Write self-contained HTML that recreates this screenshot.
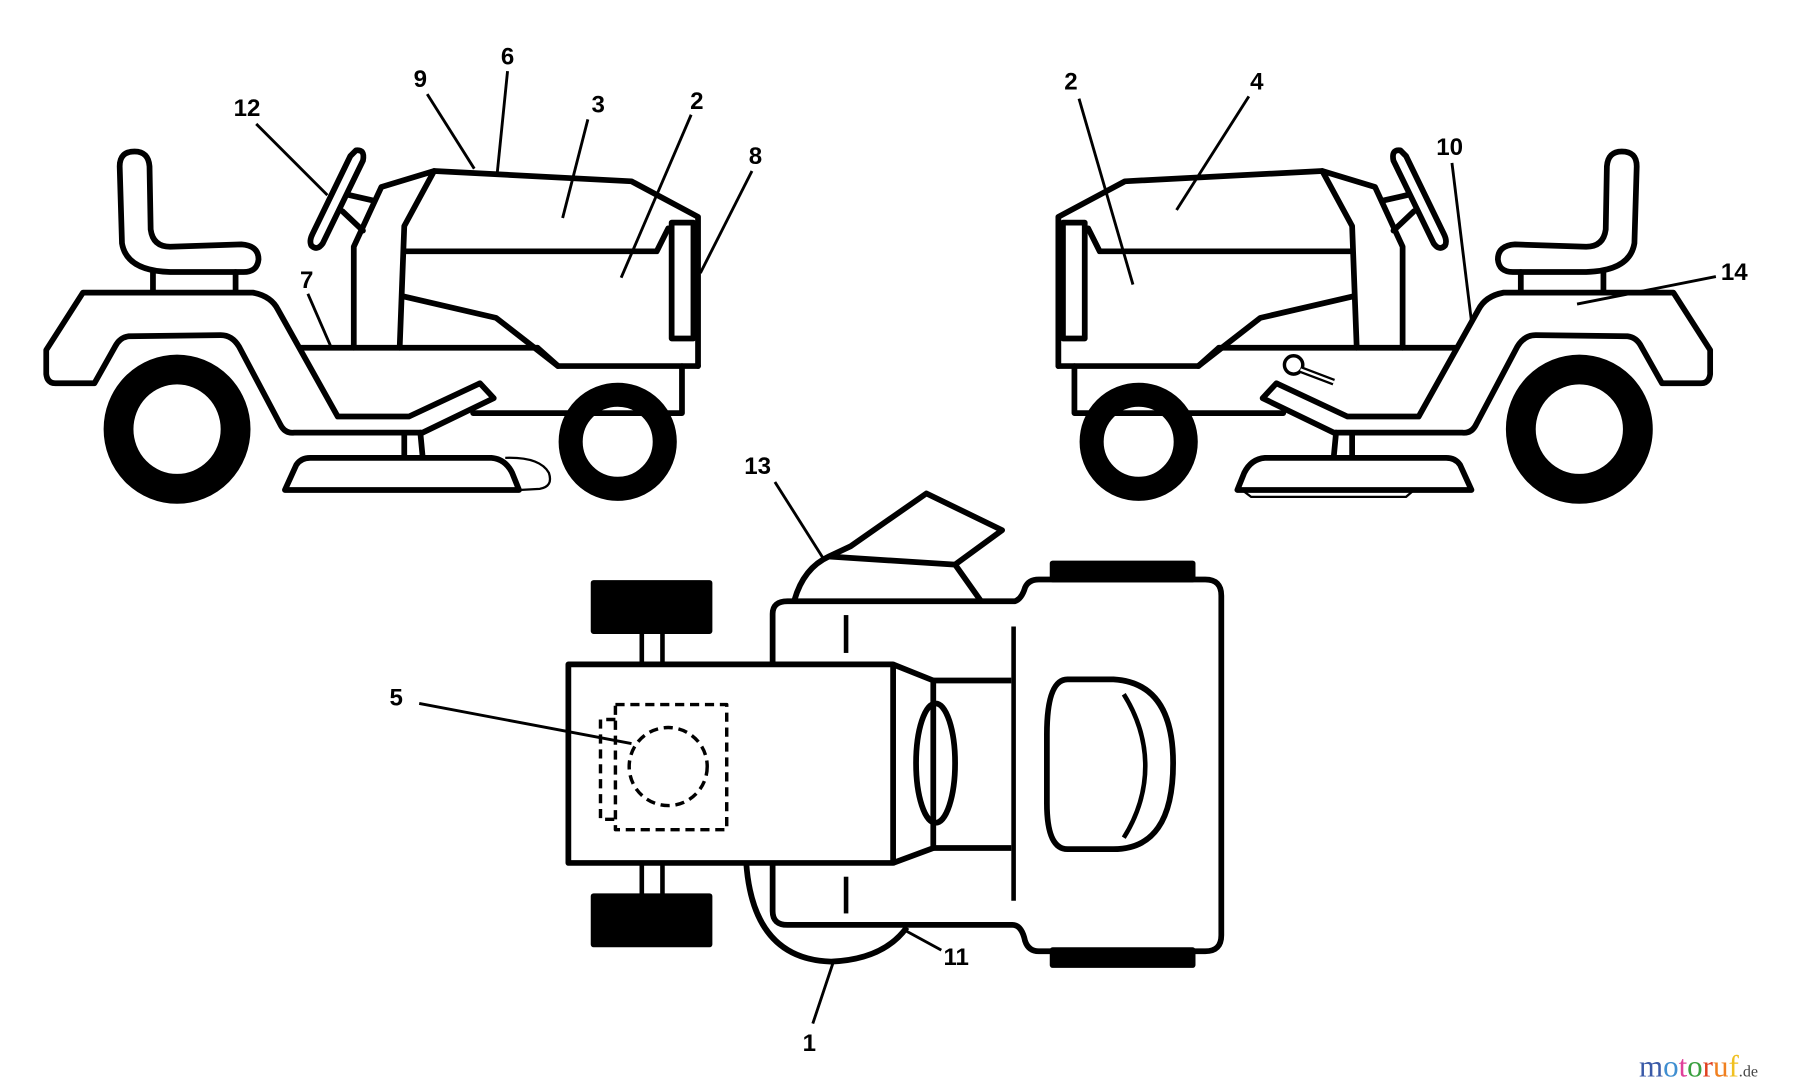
<!DOCTYPE html>
<html><head><meta charset="utf-8"><style>
html,body{margin:0;padding:0;background:#fff;}
svg{display:block}
text{font-family:"Liberation Sans",Arial,sans-serif;font-weight:bold;font-size:21px;fill:#000}
</style></head><body>
<svg width="1800" height="1089" viewBox="0 0 1568 949" xmlns="http://www.w3.org/2000/svg">
<defs>
<g id="tr" fill="none" stroke="#000" stroke-width="5" stroke-linejoin="round" stroke-linecap="round">
  <path d="M106,212 L104,145 Q104,132 117,132 Q129,132 130,145 L131,200 Q133,215 148,215 L210,213 Q225,214 225,226 Q224,237 212,237 L148,237 Q110,236 106,212 Z" fill="#fff"/>
  <line x1="133" y1="237" x2="133" y2="254"/><line x1="205" y1="237" x2="205" y2="254"/>
  <ellipse cx="154" cy="374" rx="51" ry="52" stroke-width="26"/>
  <ellipse cx="538" cy="385" rx="41" ry="41" stroke-width="21"/>
  <path d="M72,255 L220,255 Q236,258 242,270 L294,363 L356,363 L418,334 L430,347 L368,377 L256,377 Q248,378 244,370 L208,302 Q202,292 192,292 L112,293 Q104,294 100,302 L82,334 L48,334 Q41,334 40,326 L40,305 Z" fill="#fff"/>
  <line x1="262" y1="303" x2="468" y2="303"/>
  <path d="M468,303 L486,319 L608,319"/>
  <path d="M594,319 L594,360 L412,360"/>
  <path d="M308,303 L308,215 L332,163 L378,149 L550,158 L608,189 L608,319"/>
  <path d="M378,149 L352,197 L348,303"/>
  <path d="M352,219 L572,219 L582,199"/>
  <rect x="585" y="194" width="19" height="101"/>
  <path d="M350,258 L432,277 L486,319"/>
  <line x1="304" y1="170" x2="326" y2="175"/><line x1="298" y1="184" x2="316" y2="201"/>
  <path d="M310,131 Q318,130 316,140 L281,212 Q276,219 271,214 Q269,210 272,204 L305,136 Z" fill="#fff"/>
  <line x1="352" y1="379" x2="352" y2="398"/><line x1="366" y1="377" x2="368" y2="398"/>
  <path d="M248,427 L258,405 Q262,399 270,399 L428,399 Q440,400 446,412 L452,427 Z" fill="#fff"/>
</g>
</defs>
<use href="#tr"/>
<path d="M440,399 Q470,398 478,412 Q482,424 470,426 L452,427" fill="none" stroke="#000" stroke-width="2"/>
<use href="#tr" transform="translate(1530,0) scale(-1,1)"/>
<circle cx="1127" cy="318" r="8" fill="#fff" stroke="#000" stroke-width="3"/>
<line x1="1133" y1="322" x2="1162" y2="333" stroke="#000" stroke-width="6"/>
<line x1="1133" y1="322" x2="1162" y2="333" stroke="#fff" stroke-width="2"/>
<path d="M1082,427 L1090,433 L1225,433 L1232,427" fill="none" stroke="#000" stroke-width="2"/>

<g fill="none" stroke="#000" stroke-width="5" stroke-linejoin="round">
  <rect x="517" y="508" width="101" height="42" fill="#000"/>
  <rect x="517" y="781" width="101" height="42" fill="#000"/>
  <rect x="917" y="491" width="122" height="14" fill="#000"/>
  <rect x="917" y="828" width="122" height="13" fill="#000"/>
  <line x1="559" y1="550" x2="559" y2="579" stroke-width="4"/><line x1="577" y1="550" x2="577" y2="579" stroke-width="4"/>
  <line x1="559" y1="752" x2="559" y2="781" stroke-width="4"/><line x1="577" y1="752" x2="577" y2="781" stroke-width="4"/>
  <path d="M650,752 Q656,836 724,838 Q770,836 790,808"/>
  <path d="M692,523 Q700,495 722,485 L741,476 L807,430 L873,462 L832,492 L854,523"/>
  <line x1="722" y1="485" x2="832" y2="492"/>
  <path d="M673,579 L673,535 Q673,524 686,524 L884,524 Q890,522 893,512 Q896,505 905,505 L1050,505 Q1064,505 1064,519 L1064,815 Q1064,829 1050,829 L905,829 Q896,829 893,820 Q890,806 882,806 L686,806 Q673,806 673,794 L673,752"/>
  <rect x="495" y="579" width="283" height="173" fill="#fff"/>
  <path d="M778,579 L813,593 L813,739 L778,752"/>
  <path d="M813,593 L881,593 M813,739 L881,739" />
  <ellipse cx="815" cy="665" rx="17" ry="52"/>
  <line x1="883" y1="546" x2="883" y2="785" stroke-width="4"/>
  <line x1="737" y1="536" x2="737" y2="569" stroke-width="4"/>
  <line x1="737" y1="764" x2="737" y2="796" stroke-width="4"/>
  <path d="M930,592 L970,592 Q1022,595 1022,665 Q1022,740 970,740 L930,740 Q912,740 912,700 L912,640 Q912,592 930,592 Z"/>
  <path d="M979,605 C1004,645 1004,690 979,730" stroke-width="4"/>
  <g stroke-width="3" stroke-dasharray="8,5">
    <rect x="536" y="614" width="97" height="109"/>
    <path d="M536,627 L523,627 L523,714 L536,714"/>
    <circle cx="582" cy="668" r="34"/>
  </g>
</g>

<g stroke="#000" stroke-width="2.5" fill="none">
  <line x1="223" y1="108" x2="285" y2="170"/>
  <line x1="372" y1="82" x2="413" y2="147"/>
  <line x1="442" y1="62" x2="433" y2="151"/>
  <line x1="512" y1="104" x2="490" y2="190"/>
  <line x1="602" y1="100" x2="541" y2="242"/>
  <line x1="655" y1="149" x2="610" y2="238"/>
  <line x1="268" y1="256" x2="288" y2="302"/>
  <line x1="940" y1="86" x2="987" y2="248"/>
  <line x1="1088" y1="84" x2="1025" y2="183"/>
  <line x1="1265" y1="142" x2="1282" y2="280"/>
  <line x1="1495" y1="241" x2="1374" y2="265"/>
  <line x1="675" y1="420" x2="718" y2="488"/>
  <line x1="365" y1="613" x2="550" y2="648"/>
  <line x1="820" y1="828" x2="787" y2="810"/>
  <line x1="708" y1="892" x2="726" y2="838"/>
</g>
<g text-anchor="middle">
  <text x="215" y="101">12</text>
  <text x="366" y="76">9</text>
  <text x="442" y="56">6</text>
  <text x="521" y="98">3</text>
  <text x="607" y="95">2</text>
  <text x="658" y="143">8</text>
  <text x="267" y="251">7</text>
  <text x="933" y="78">2</text>
  <text x="1095" y="78">4</text>
  <text x="1263" y="135">10</text>
  <text x="1511" y="244">14</text>
  <text x="660" y="413">13</text>
  <text x="345" y="615">5</text>
  <text x="833" y="841">11</text>
  <text x="705" y="916">1</text>
</g>
<text x="1428" y="938" style="font-family:'Liberation Serif',serif;font-weight:normal;font-size:27px"><tspan fill="#3a5aa8">m</tspan><tspan fill="#3f8ed0">o</tspan><tspan fill="#e0409a">t</tspan><tspan fill="#3aa040">o</tspan><tspan fill="#e04020">r</tspan><tspan fill="#f08020">u</tspan><tspan fill="#f0c020">f</tspan><tspan fill="#444" style="font-size:14px">.de</tspan></text>
</svg>
</body></html>
